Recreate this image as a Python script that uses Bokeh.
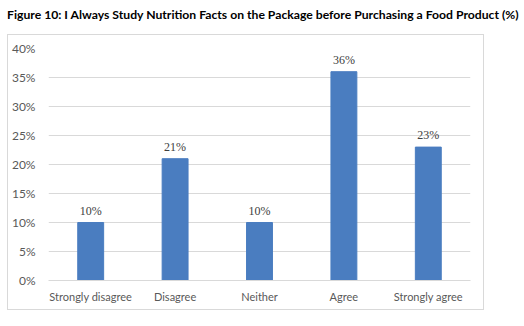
from bokeh.plotting import figure
from bokeh.models import (ColumnDataSource, LabelSet, NumeralTickFormatter, FixedTicker, Div,
                          Range1d, FactorRange, InlineStyleSheet)
from bokeh.layouts import column
from bokeh.embed import file_html
from bokeh.resources import INLINE

title_text = "Figure 10: I Always Study Nutrition Facts on the Package before Purchasing a Food Product (%)"
categories = ["Strongly disagree", "Disagree", "Neither", "Agree", "Strongly agree"]
values = [0.10, 0.21, 0.10, 0.36, 0.23]
labels = ["10%", "21%", "10%", "36%", "23%"]
y_ticks = [0, 0.05, 0.10, 0.15, 0.20, 0.25, 0.30, 0.35, 0.40]

FONT = "Lato"
src = ColumnDataSource(dict(cat=categories, val=values, lab=labels))

div = Div(text=title_text, width=524, height=34, margin=(0, 0, 0, 0),
          styles={"font-family": FONT, "font-weight": "bold", "font-size": "12.2px",
                  "color": "#000000", "padding-left": "7px", "padding-top": "6px",
                  "white-space": "nowrap"})

W, H = 477, 276
p = figure(width=W, height=H, x_range=FactorRange(*categories, range_padding=0),
           y_range=Range1d(0, 0.4), output_backend="svg", toolbar_location=None,
           min_border_left=38, min_border_right=15, min_border_top=13, min_border_bottom=31,
           margin=(0, 0, 0, 7))
p.outline_line_color = None
p.background_fill_color = "white"
p.border_fill_color = "white"
p.stylesheets = [InlineStyleSheet(css=":host { border: 1px solid #d9d9d9 !important; box-sizing: content-box; }")]

p.vbar(x="cat", top="val", width=0.307, source=src, color="#4a7dc0")

lbl = LabelSet(x="cat", y="val", text="lab", source=src, y_offset=5,
               text_align="center", text_baseline="bottom",
               text_font=FONT, text_font_size="12px", text_color="#404040")
p.add_layout(lbl)

p.yaxis.ticker = FixedTicker(ticks=y_ticks)
p.yaxis.formatter = NumeralTickFormatter(format="0%")
p.yaxis.axis_line_color = None
p.yaxis.major_tick_line_color = None
p.yaxis.minor_tick_line_color = None
p.yaxis.major_label_standoff = 7
p.yaxis.major_label_text_font = FONT
p.yaxis.major_label_text_font_size = "12px"
p.yaxis.major_label_text_color = "#595959"

p.xaxis.axis_line_color = "#d9d9d9"
p.xaxis.major_tick_line_color = None
p.xaxis.minor_tick_line_color = None
p.xaxis.major_label_standoff = 3
p.xaxis.major_label_text_font = FONT
p.xaxis.major_label_text_font_size = "11px"
p.xaxis.major_label_text_color = "#595959"

p.xgrid.grid_line_color = None
p.ygrid.grid_line_color = "#d9d9d9"

layout = column(div, p, margin=(0, 0, 0, 0), spacing=0, styles={"background-color": "white"})
open("out.html", "w").write(file_html(layout, INLINE))
